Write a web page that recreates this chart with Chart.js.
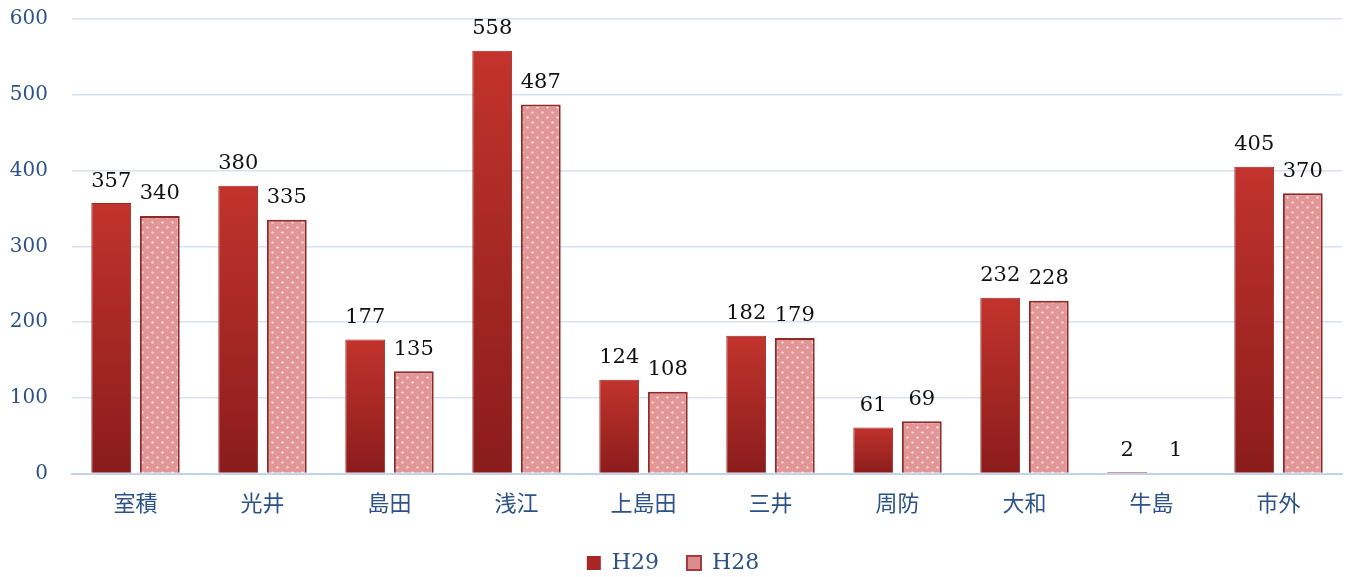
<!DOCTYPE html>
<html>
<head>
<meta charset="utf-8">
<script src="https://cdn.jsdelivr.net/npm/chart.js@4"></script>
<style>
  html, body { margin: 0; padding: 0; background: #fff; overflow: hidden; }
  #wrap { width: 1348px; height: 577px; overflow: hidden; }
</style>
</head>
<body>
<div id="wrap"><canvas id="c" width="1348" height="600"></canvas></div>
<script>
const categories = ['室積', '光井', '島田', '浅江', '上島田', '三井', '周防', '大和', '牛島', '市外'];
const h29_values = [357, 380, 177, 558, 124, 182, 61, 232, 2, 405];
const h28_values = [340, 335, 135, 487, 108, 179, 69, 228, 1, 370];
const y_ticks = [0, 100, 200, 300, 400, 500, 600];

const BLUE = '#2c5287';
const SERIF = '"DejaVu Serif", serif';

// dotted pink fill for H28
const makeDotPattern = () => {
    const p = document.createElement('canvas');
    p.width = 10;
    p.height = 10;
    const g = p.getContext('2d');
    g.fillStyle = '#e29696';
    g.fillRect(0, 0, 10, 10);
    g.fillStyle = 'rgba(255,255,255,0.85)';
    g.beginPath(); g.arc(2.5, 2.5, 1.1, 0, Math.PI * 2); g.fill();
    g.beginPath(); g.arc(7.5, 7.5, 1.1, 0, Math.PI * 2); g.fill();
    return g.createPattern(p, 'repeat');
}

// gradient per bar, lighter at the top
const barGradient = (context) => {
    const chart = context.chart;
    if (!chart.chartArea || context.type !== 'data') return '#a82626';
    const y = chart.scales.y;
    const top = y.getPixelForValue(context.raw);
    const bottom = y.getPixelForValue(0);
    if (bottom - top < 1) return '#a82626';
    const grad = chart.ctx.createLinearGradient(0, top, 0, bottom);
    grad.addColorStop(0, '#c2332c');
    grad.addColorStop(1, '#8a1c1c');
    return grad;
}

const valueLabels = {
    id: 'valueLabels',
    afterDatasetsDraw(chart) {
        const ctx = chart.ctx;
        ctx.save();
        ctx.font = '21px ' + SERIF;
        ctx.fillStyle = '#111';
        ctx.textAlign = 'center';
        ctx.textBaseline = 'middle';
        chart.data.datasets.forEach((ds, i) => {
            chart.getDatasetMeta(i).data.forEach((bar, j) => {
                ctx.fillText(String(ds.data[j]), bar.x, bar.y - 22);
            });
        });
        ctx.restore();
    }
};

const chart = new Chart(document.getElementById('c'), {
    type: 'bar',
    data: {
        labels: categories,
        datasets: [
            {
                label: 'H29',
                data: h29_values,
                backgroundColor: barGradient,
                borderColor: '#9a2a24',
                borderWidth: 1,
                categoryPercentage: 0.765,
                barPercentage: 0.82
            },
            {
                label: 'H28',
                data: h28_values,
                backgroundColor: makeDotPattern(),
                borderColor: '#8e2a2a',
                borderWidth: 2,
                categoryPercentage: 0.765,
                barPercentage: 0.82
            }
        ]
    },
    plugins: [valueLabels],
    options: {
        responsive: false,
        animation: false,
        layout: { padding: { left: 4, right: 6, top: 0, bottom: 16 } },
        scales: {
            x: {
                grid: { display: false },
                border: { display: true, color: '#c3d3ea', width: 2 },
                ticks: {
                    color: BLUE,
                    font: { family: '"Noto Sans CJK JP", sans-serif', size: 22 },
                    padding: 8
                }
            },
            y: {
                min: 0,
                max: 600,
                afterBuildTicks: (axis) => { axis.ticks = y_ticks.map(v => ({ value: v })); },
                afterFit: (axis) => {
                    axis.width = 68;
                    axis.paddingTop = 19;
                    axis.paddingBottom = 0;
                },
                grid: { color: '#d8e2f0', lineWidth: 1.5, drawTicks: false },
                border: { display: false },
                ticks: {
                    color: BLUE,
                    font: { family: SERIF, size: 20 },
                    padding: 24
                }
            }
        },
        plugins: {
            legend: {
                position: 'bottom',
                labels: {
                    color: BLUE,
                    font: { family: SERIF, size: 22 },
                    boxWidth: 14,
                    boxHeight: 14,
                    padding: 28,
                    generateLabels: () => [
                        { text: 'H29', fillStyle: '#a82626', strokeStyle: '#a82626', lineWidth: 0, datasetIndex: 0, fontColor: BLUE },
                        { text: 'H28', fillStyle: '#dc8c8c', strokeStyle: '#a23c3c', lineWidth: 2, datasetIndex: 1, fontColor: BLUE }
                    ]
                }
            },
            tooltip: { enabled: false }
        }
    }
});
</script>
</body>
</html>
